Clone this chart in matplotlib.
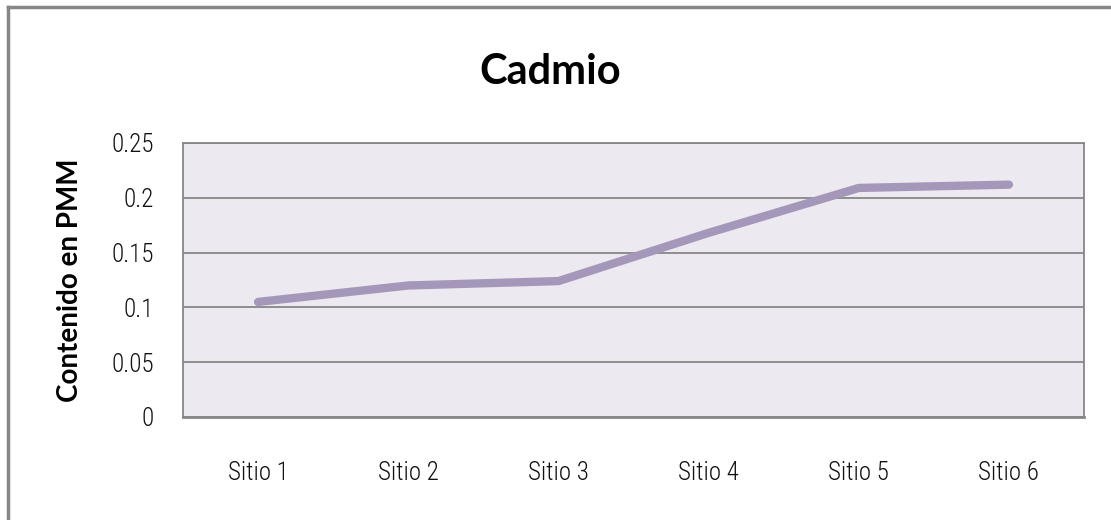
import matplotlib.pyplot as plt
from matplotlib.lines import Line2D
from matplotlib import font_manager

sitios = ["Sitio 1", "Sitio 2", "Sitio 3", "Sitio 4", "Sitio 5", "Sitio 6"]
cadmio = [0.105, 0.120, 0.124, 0.168, 0.209, 0.212]
y_ticks = [0, 0.05, 0.1, 0.15, 0.2, 0.25]
y_labels = ["0", "0.05", "0.1", "0.15", "0.2", "0.25"]

# narrow font for the tick labels if one is around
names = {f.name for f in font_manager.fontManager.ttflist}
narrow = [n for n in ["Roboto Condensed", "Open Sans Condensed"] if n in names]
tick_font = narrow + ["Lato", "DejaVu Sans"]

W, H = 1111, 520
fig = plt.figure(figsize=(W / 100, H / 100), dpi=100)
fig.patch.set_facecolor("white")

# chart border (only top and left visible in the crop)
fig.add_artist(Line2D([8 / W, 8 / W], [0, 1 - 7 / H], color="#878787", lw=2.5))
fig.add_artist(Line2D([8 / W, 1], [1 - 7 / H, 1 - 7 / H], color="#878787", lw=2.5))

ax = fig.add_axes([183 / W, 103 / H, 901 / W, 274 / H])
ax.set_facecolor("#ECEAF0")

x = range(len(sitios))
ax.plot(x, cadmio, color="#A597BA", lw=6, solid_capstyle="round", solid_joinstyle="round", zorder=3)

ax.set_xlim(-0.5, len(sitios) - 0.5)
ax.set_ylim(0, 0.25)
ax.set_yticks(y_ticks)
ax.set_yticklabels(y_labels)
ax.set_xticks(list(x))
ax.set_xticklabels(sitios)
ax.tick_params(length=0)
ax.tick_params(axis="y", pad=21, labelsize=18)
ax.tick_params(axis="x", pad=32, labelsize=18)
for lab in ax.get_xticklabels() + ax.get_yticklabels():
    lab.set_fontfamily(tick_font)
    lab.set_fontweight("light")
    lab.set_color("#111111")

ax.grid(axis="y", color="#878787", lw=1.3)
ax.set_axisbelow(True)
for side in ["top", "left", "right", "bottom"]:
    ax.spines[side].set_color("#878787")
    ax.spines[side].set_linewidth(1.3)
ax.spines["bottom"].set_linewidth(2)

ax.set_ylabel("Contenido en PMM", fontsize=20, fontweight="bold", family="Lato", labelpad=20)
fig.text(550 / W, 1 - 72 / H, "Cadmio", ha="center", va="center", fontsize=30,
         fontweight="bold", family="Lato")

fig.savefig("out.png", dpi=100)
